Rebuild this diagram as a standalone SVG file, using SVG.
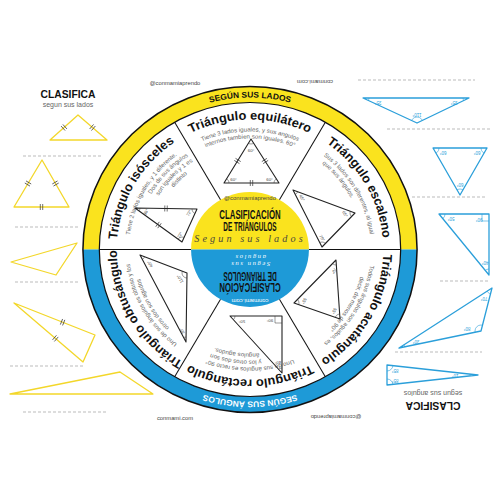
<svg xmlns="http://www.w3.org/2000/svg" width="500" height="500" viewBox="0 0 500 500">
<style>
.ttl{font-family:"Liberation Sans",Arial,sans-serif;font-weight:bold;font-size:12.5px;fill:#111}
.dsc{font-family:"Liberation Sans",Arial,sans-serif;font-size:6px;fill:#666}
.ring{font-family:"Liberation Sans",Arial,sans-serif;font-weight:bold;font-size:8.2px}
.wm{font-family:"Liberation Sans",Arial,sans-serif;font-size:5.8px;fill:#444;text-anchor:middle}
.lbl{font-family:"Liberation Sans",Arial,sans-serif;font-size:4.3px;fill:#444;text-anchor:middle;dominant-baseline:central}
.lblb{font-family:"Liberation Sans",Arial,sans-serif;font-size:4.5px;fill:#2B9FDA;text-anchor:middle;dominant-baseline:central}
.clas{font-family:"Liberation Sans",Arial,sans-serif;font-weight:bold;font-size:11px;fill:#111;text-anchor:middle}
.sub{font-family:"Liberation Sans",Arial,sans-serif;font-size:7px;fill:#666;text-anchor:middle}
.ytri{fill:none;stroke:#F3D72A;stroke-width:1.3;stroke-linejoin:round}
.btri{fill:none;stroke:#2B9FDA;stroke-width:1.3;stroke-linejoin:round}
.ktri{fill:none;stroke:#222;stroke-width:1.1;stroke-linejoin:round}
.dash{stroke:#aaa;stroke-width:0.8;stroke-dasharray:3 2}
.arcK{fill:none;stroke:#333;stroke-width:0.5}
.arcB{fill:none;stroke:#2B9FDA;stroke-width:0.6}
.div{stroke:#111;stroke-width:1}
.ctr{font-family:"Liberation Sans",Arial,sans-serif;font-weight:bold;font-size:12px;text-anchor:middle}
.scr{font-family:"Liberation Serif",serif;font-style:italic;text-anchor:middle}
</style>
<defs>
<path id="p152" d="M -107.48 -107.48 A 152 152 0 0 1 107.48 -107.48"/>
<path id="p130" d="M -91.92 -91.92 A 130 130 0 0 1 91.92 -91.92"/>
<path id="p118" d="M -83.44 -83.44 A 118 118 0 0 1 83.44 -83.44"/>
<path id="p111" d="M -78.49 -78.49 A 111 111 0 0 1 78.49 -78.49"/>
<path id="p104" d="M -73.54 -73.54 A 104 104 0 0 1 73.54 -73.54"/>
<path id="p97" d="M -68.59 -68.59 A 97 97 0 0 1 68.59 -68.59"/>
<g id="tk" stroke="#333" stroke-width="0.7"><line x1="-1.2" y1="-3" x2="-1.2" y2="3"/><line x1="1.2" y1="-3" x2="1.2" y2="3"/></g>
<clipPath id="cEq"><polygon points="251,139 224,183 279,183"/></clipPath>
<clipPath id="cIs"><polygon points="135,208 197,209 182,242"/></clipPath>
<clipPath id="cEs"><polygon points="293,190 355,213 322,247"/></clipPath>
<clipPath id="cOb"><polygon points="140,255 187,273 186,342"/></clipPath>
<clipPath id="cRe"><polygon points="230,316 282,316 282,373"/></clipPath>
<clipPath id="cAc"><polygon points="336,260 294,303 340,319"/></clipPath>
<clipPath id="cA"><polygon points="363,98 469,98 417,123"/></clipPath>
<clipPath id="cB"><polygon points="433,148 487,148 460,195"/></clipPath>
<clipPath id="cC"><polygon points="439,214 489,214 489,275"/></clipPath>
<clipPath id="cD"><polygon points="399,348 492,288 481,331"/></clipPath>
<clipPath id="cE"><polygon points="387,365 478,375 387,385"/></clipPath>
</defs>
<rect width="500" height="500" fill="#fff"/>

<g id="watermarks">
<text class="wm" x="175" y="85">@conmamiaprendo</text>
<text class="wm" transform="translate(315 80) rotate(180)">conmami.com</text>
<text class="wm" x="175" y="420">conmami.com</text>
<text class="wm" transform="translate(336 415) rotate(180)">@conmamiaprendo</text>
</g>

<g id="left-column">
<text class="clas" x="68" y="98" textLength="55" lengthAdjust="spacingAndGlyphs">CLASIFICA</text>
<text class="sub" x="68" y="106.5">segun sus lados</text>
<line class="dash" x1="23" y1="156" x2="103" y2="156"/>
<line class="dash" x1="15" y1="227" x2="78" y2="227"/>
<line class="dash" x1="15" y1="282" x2="78" y2="282"/>
<line class="dash" x1="10" y1="366" x2="83" y2="366"/>
<line class="dash" x1="23" y1="412" x2="107" y2="412"/>
<polygon class="ytri" points="50,140 78,115 107,140"/>
<use href="#tk" transform="translate(64 127.5) rotate(-41.8)"/>
<use href="#tk" transform="translate(92.5 127.5) rotate(40.8)"/>
<polygon class="ytri" points="42,160 14,207 69,207"/>
<use href="#tk" transform="translate(28 183.5) rotate(-59.2)"/>
<use href="#tk" transform="translate(55.5 183.5) rotate(60.1)"/>
<use href="#tk" transform="translate(41.5 207) rotate(0)"/>
<polygon class="ytri" points="11,262 77,243 56,275"/>
<polygon class="ytri" points="14,303 95,335 83,362"/>
<use href="#tk" transform="translate(62.6 322.2) rotate(21.6)"/>
<use href="#tk" transform="translate(55.4 338.4) rotate(40.5)"/>
<polygon class="ytri" points="10,394 120,372 153,394"/>
</g>

<g id="right-column">
<line class="dash" x1="358" y1="80" x2="475" y2="80"/>
<line class="dash" x1="387" y1="129" x2="492" y2="129"/>
<line class="dash" x1="412" y1="197" x2="485" y2="197"/>
<line class="dash" x1="440" y1="281" x2="490" y2="281"/>
<line class="dash" x1="395" y1="352" x2="482" y2="352"/>
<polygon class="btri" points="363,98 469,98 417,123"/>
<g clip-path="url(#cA)" class="arcB"><circle cx="363" cy="98" r="6"/><circle cx="469" cy="98" r="6"/><circle cx="417" cy="123" r="6"/></g>
<text class="lblb" transform="translate(378 102) rotate(180)">35°</text>
<text class="lblb" transform="translate(454 102) rotate(180)">35°</text>
<text class="lblb" transform="translate(417 114) rotate(180)">110°</text>
<polygon class="btri" points="433,148 487,148 460,195"/>
<g clip-path="url(#cB)" class="arcB"><circle cx="433" cy="148" r="6"/><circle cx="487" cy="148" r="6"/><circle cx="460" cy="195" r="6"/></g>
<text class="lblb" transform="translate(443 152) rotate(180)">60°</text>
<text class="lblb" transform="translate(477 152) rotate(180)">60°</text>
<text class="lblb" transform="translate(460 184) rotate(180)">60°</text>
<polygon class="btri" points="439,214 489,214 489,275"/>
<g clip-path="url(#cC)" class="arcB"><circle cx="439" cy="214" r="6"/><circle cx="489" cy="275" r="6"/></g>
<path d="M482,214 V221 H489" class="arcB"/>
<text class="lblb" transform="translate(451 218) rotate(180)">50°</text>
<text class="lblb" transform="translate(479 219) rotate(180)">90°</text>
<text class="lblb" transform="translate(485 262) rotate(180)">40°</text>
<polygon class="btri" points="399,348 492,288 481,331"/>
<g clip-path="url(#cD)" class="arcB"><circle cx="399" cy="348" r="6"/><circle cx="492" cy="288" r="6"/><circle cx="481" cy="331" r="6"/></g>
<text class="lblb" transform="translate(416 341) rotate(180)">30°</text>
<text class="lblb" transform="translate(484 298) rotate(180)">70°</text>
<text class="lblb" transform="translate(467 328) rotate(180)">80°</text>
<polygon class="btri" points="387,365 478,375 387,385"/>
<g clip-path="url(#cE)" class="arcB"><circle cx="387" cy="365" r="6"/><circle cx="387" cy="385" r="6"/><circle cx="478" cy="375" r="8"/></g>
<text class="lblb" transform="translate(395 370) rotate(180)">85°</text>
<text class="lblb" transform="translate(395 380.5) rotate(180)">85°</text>
<text class="lblb" transform="translate(455 375) rotate(180)">10°</text>
<text class="clas" transform="translate(433 402) rotate(180)" textLength="55" lengthAdjust="spacingAndGlyphs">CLASIFICA</text>
<text class="sub" transform="translate(433 391) rotate(180)">segun sus angulos</text>
</g>

<g id="wheel" transform="translate(250 249.5) scale(1.025 1)">
<circle r="147" fill="#fff"/>
<path d="M -163 0 A 163 163 0 0 1 163 0 L 147 0 A 147 147 0 0 0 -147 0 Z" fill="#FAE31E"/>
<path d="M -163 0 A 163 163 0 0 0 163 0 L 147 0 A 147 147 0 0 1 -147 0 Z" fill="#1E9AD7"/>
<circle r="163" fill="none" stroke="#111" stroke-width="1.5"/>
<circle r="147" fill="none" stroke="#111" stroke-width="1.2"/>
<g id="connectors">
<line class="div" x1="-147" y1="0" x2="-57.5" y2="0"/>
<line class="div" x1="57.5" y1="0" x2="147" y2="0"/>
<line class="div" x1="28.75" y1="-49.8" x2="73.5" y2="-127.3"/>
<line class="div" x1="-28.75" y1="-49.8" x2="-73.5" y2="-127.3"/>
<line class="div" x1="28.75" y1="49.8" x2="73.5" y2="127.3"/>
<line class="div" x1="-28.75" y1="49.8" x2="-73.5" y2="127.3"/>
</g>
<text class="ring" fill="#111"><textPath href="#p152" startOffset="50%" text-anchor="middle">SEGÚN SUS LADOS</textPath></text>
<g transform="rotate(180)"><text class="ring" fill="#fff"><textPath href="#p152" startOffset="50%" text-anchor="middle">SEGÚN SUS ÁNGULOS</textPath></text></g>

<g id="center">
<path d="M -57.5 0 A 57.5 57.5 0 0 1 57.5 0 Z" fill="#FAE31E"/>
<path d="M -57.5 0 A 57.5 57.5 0 0 0 57.5 0 Z" fill="#1E9AD7"/>
<text class="wm" x="0" y="-50" fill="#333">@conmamiaprendo</text>
<text class="ctr" x="0" y="-30.5" fill="#111" textLength="60" lengthAdjust="spacingAndGlyphs">CLASIFICACIÓN</text>
<text class="ctr" x="0" y="-19" fill="#111" textLength="52" lengthAdjust="spacingAndGlyphs">DE TRIÁNGULOS</text>
<text class="scr" x="0" y="-8" font-size="10" fill="#4a4a3a" letter-spacing="3">Segun sus lados</text>
<g transform="rotate(180)">
<text class="wm" x="0" y="-50" style="fill:#fff">conmami.com</text>
<text class="ctr" x="0" y="-34" fill="#111" textLength="60" lengthAdjust="spacingAndGlyphs">CLASIFICACIÓN</text>
<text class="ctr" x="0" y="-22.5" fill="#111" textLength="52" lengthAdjust="spacingAndGlyphs">DE TRIÁNGULOS</text>
<text class="scr" x="0" y="-13" font-size="6.5" fill="#fff" letter-spacing="1.5">Segun sus</text>
<text class="scr" x="0" y="-6" font-size="6.5" fill="#fff" letter-spacing="1.5">angulos</text>
</g>
</g>

<g id="sector-equilatero">
<text class="ttl"><textPath href="#p130" startOffset="50%" text-anchor="middle">Triángulo equilátero</textPath></text>
<text class="dsc"><textPath href="#p118" startOffset="50%" text-anchor="middle">Tiene 3 lados iguales, y sus angulos</textPath></text>
<text class="dsc"><textPath href="#p111" startOffset="50%" text-anchor="middle">internos tambien son iguales. 60°</textPath></text>
</g>
<g id="sector-isosceles" transform="rotate(-60)">
<text class="ttl"><textPath href="#p130" startOffset="50%" text-anchor="middle">Triángulo isósceles</textPath></text>
<text class="dsc"><textPath href="#p118" startOffset="50%" text-anchor="middle">Tiene 2 lados iguales, y 1 diferente.</textPath></text>
<text class="dsc"><textPath href="#p111" startOffset="65%" text-anchor="middle">Dos de sus ángulos</textPath></text>
<text class="dsc"><textPath href="#p104" startOffset="66%" text-anchor="middle">son iguales y 1 es</textPath></text>
<text class="dsc"><textPath href="#p97" startOffset="67%" text-anchor="middle">distinto</textPath></text>
</g>
<g id="sector-escaleno" transform="rotate(60)">
<text class="ttl"><textPath href="#p130" startOffset="50%" text-anchor="middle">Triángulo escaleno</textPath></text>
<text class="dsc"><textPath href="#p118" startOffset="50%" text-anchor="middle">Sus 3 lados son diferentes, al igual</textPath></text>
<text class="dsc"><textPath href="#p111" startOffset="40%" text-anchor="middle">que sus ángulos.</textPath></text>
</g>
<g id="sector-rectangulo" transform="rotate(180)">
<text class="ttl"><textPath href="#p130" startOffset="50%" text-anchor="middle">Triángulo rectángulo</textPath></text>
<text class="dsc"><textPath href="#p118" startOffset="50%" text-anchor="middle">Uno de sus ángulos es recto 90°</textPath></text>
<text class="dsc"><textPath href="#p111" startOffset="58%" text-anchor="middle">y los otros dos son</textPath></text>
<text class="dsc"><textPath href="#p104" startOffset="58%" text-anchor="middle">ángulos agudos.</textPath></text>
</g>
<g id="sector-obtusangulo" transform="rotate(-120)">
<text class="ttl"><textPath href="#p130" startOffset="50%" text-anchor="middle">Triángulo obtusángulo</textPath></text>
<text class="dsc"><textPath href="#p118" startOffset="50%" text-anchor="middle">Uno de sus ángulos es obtuso y los</textPath></text>
<text class="dsc"><textPath href="#p111" startOffset="50%" text-anchor="middle">otros dos son agudos</textPath></text>
</g>
<g id="sector-acutangulo" transform="rotate(120)">
<text class="ttl"><textPath href="#p130" startOffset="50%" text-anchor="middle">Triángulo acutángulo</textPath></text>
<text class="dsc"><textPath href="#p118" startOffset="50%" text-anchor="middle">Todos sus ángulos son agudos, es</textPath></text>
<text class="dsc"><textPath href="#p111" startOffset="50%" text-anchor="middle">decir, de menos de 90°</textPath></text>
</g>
</g>

<g id="tri-equilatero">
<polygon class="ktri" points="251,139 224,183 279,183"/>
<g clip-path="url(#cEq)" class="arcK"><circle cx="251" cy="139" r="5"/><circle cx="224" cy="183" r="5"/><circle cx="279" cy="183" r="5"/></g>
<use href="#tk" transform="translate(237.5 161) rotate(-58.5)"/>
<use href="#tk" transform="translate(265 161) rotate(57.5)"/>
<use href="#tk" transform="translate(251.5 183) rotate(0)"/>
<text class="lbl" x="251" y="150">60°</text>
<text class="lbl" x="233.5" y="179.5">60°</text>
<text class="lbl" x="269.5" y="179.5">60°</text>
</g>
<g id="tri-isosceles">
<polygon class="ktri" points="135,208 197,209 182,242"/>
<g clip-path="url(#cIs)" class="arcK"><circle cx="135" cy="208" r="5"/><circle cx="197" cy="209" r="5"/><circle cx="182" cy="242" r="5"/></g>
<use href="#tk" transform="translate(166 208.5) rotate(1)"/>
<use href="#tk" transform="translate(158.5 225) rotate(35.9)"/>
<text class="lbl" transform="translate(146 212) rotate(-60)">36°</text>
<text class="lbl" transform="translate(189 213) rotate(-60)">72°</text>
<text class="lbl" transform="translate(180 235) rotate(-60)">72°</text>
</g>
<g id="tri-escaleno">
<polygon class="ktri" points="293,190 355,213 322,247"/>
<g clip-path="url(#cEs)" class="arcK"><circle cx="293" cy="190" r="5"/><circle cx="355" cy="213" r="5"/><circle cx="322" cy="247" r="5"/></g>
<text class="lbl" transform="translate(302 198) rotate(60)">45°</text>
<text class="lbl" transform="translate(345 214) rotate(60)">65°</text>
<text class="lbl" transform="translate(322 238) rotate(60)">70°</text>
</g>
<g id="tri-obtusangulo">
<polygon class="ktri" points="140,255 187,273 186,342"/>
<g clip-path="url(#cOb)" class="arcK"><circle cx="140" cy="255" r="5"/><circle cx="187" cy="273" r="5"/><circle cx="186" cy="342" r="5"/></g>
<text class="lbl" transform="translate(150 264) rotate(-120)">40°</text>
<text class="lbl" transform="translate(180 279) rotate(-120)">110°</text>
<text class="lbl" transform="translate(182 331) rotate(-120)">30°</text>
</g>
<g id="tri-rectangulo">
<polygon class="ktri" points="230,316 282,316 282,373"/>
<g clip-path="url(#cRe)" class="arcK"><circle cx="230" cy="316" r="5"/><circle cx="282" cy="373" r="5"/></g>
<path d="M275,316 V323 H282" class="arcK"/>
<text class="lbl" transform="translate(242 321) rotate(180)">50°</text>
<text class="lbl" transform="translate(270 320) rotate(180)">90°</text>
<text class="lbl" transform="translate(278 362) rotate(180)">40°</text>
</g>
<g id="tri-acutangulo">
<polygon class="ktri" points="336,260 294,303 340,319"/>
<g clip-path="url(#cAc)" class="arcK"><circle cx="336" cy="260" r="5"/><circle cx="294" cy="303" r="5"/><circle cx="340" cy="319" r="5"/></g>
<text class="lbl" transform="translate(334 271) rotate(120)">70°</text>
<text class="lbl" transform="translate(304 301) rotate(120)">55°</text>
<text class="lbl" transform="translate(334 311) rotate(120)">55°</text>
</g>
</svg>
